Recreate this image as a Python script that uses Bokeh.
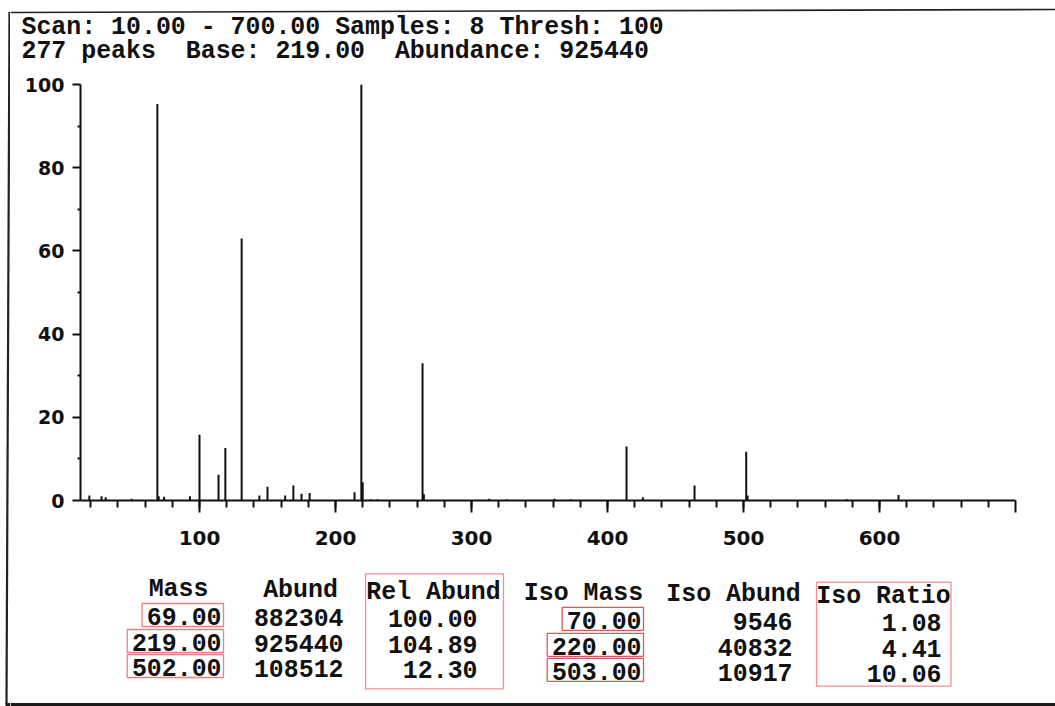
from bokeh.plotting import figure
from bokeh.models import Range1d, FixedTicker, ColumnDataSource
from bokeh.layouts import column, row
from bokeh.core.properties import value
from bokeh.embed import file_html
from bokeh.resources import INLINE

# ---- acquisition summary ----
scan_start = 10.00
scan_end = 700.00
samples = 8
thresh = 100
n_peaks = 277
base_mass = 219.00
base_abund = 925440

# ---- spectrum: peaks not listed in the table (m/z, % of base peak) ----
peak_mz = [19, 28, 31, 50, 74, 93, 100, 114, 119, 131, 144, 150, 163, 169,
           175, 181, 214, 226, 231, 264, 265, 313, 326, 361, 373, 414, 426,
           464, 576, 614]
peak_rel = [1.2, 1.0, 0.8, 0.4, 0.9, 1.0, 15.8, 6.2, 12.6, 63.0, 1.2, 3.3,
            1.2, 3.6, 1.6, 1.8, 2.0, 0.3, 0.3, 33.0, 1.5, 0.4, 0.3, 0.4, 0.3,
            13.0, 0.8, 3.6, 0.3, 1.3]

# ---- isotope table ----
tbl_mass = [69.00, 219.00, 502.00]
tbl_abund = [882304, 925440, 108512]
tbl_rel = [100.00, 104.89, 12.30]
tbl_iso_mass = [70.00, 220.00, 503.00]
tbl_iso_abund = [9546, 40832, 10917]
tbl_iso_ratio = [1.08, 4.41, 10.06]

x_ticks = [100, 200, 300, 400, 500, 600, 700]
x_minor = list(range(20, 700, 20))
y_ticks = [0, 20, 40, 60, 80, 100]
y_minor = [10, 30, 50, 70, 90]

# the tabulated masses and their isotopes are drawn from their abundances
all_mz = peak_mz + tbl_mass + tbl_iso_mass
all_rel = peak_rel + [a / base_abund * 100 for a in tbl_abund] + \
    [a / base_abund * 100 for a in tbl_iso_abund]

# ---- page geometry ----
W = 1055
H = 706
H_HEAD = 70
H_MAIN = 500
H_TAB = H - H_HEAD - H_MAIN
STRIP = 10
INK = "#111111"
EDGE = "#222222"
MONO = "Liberation Mono"
MONO_PX = 24.9
CW = 14.88           # advance of one character
TXT_DY = -7.3        # places the alphabetic baseline of the mono text
NB = "\u00a0"        # keeps runs of spaces in SVG text
TOP_EDGE = 11
BOTTOM_EDGE = 704


def blank(width, height, xr, yr):
    f = figure(width=width, height=height, x_range=Range1d(*xr),
               y_range=Range1d(*yr), output_backend="svg",
               toolbar_location=None, x_axis_location=None,
               y_axis_location=None, min_border=0)
    f.grid.visible = False
    f.outline_line_color = None
    f.background_fill_color = "white"
    f.border_fill_color = "white"
    return f


def spaced(s):
    return s.replace(" ", NB)


mono = dict(text_font=value(MONO), text_font_style="bold",
            text_font_size=f"{MONO_PX}px", text_baseline="alphabetic",
            text_color=INK)

# ---- left page edge (full height) ----
strip = blank(STRIP, H, (0, STRIP), (H, 0))
strip.line(x=[9, 6], y=[TOP_EDGE + 1, BOTTOM_EDGE], line_color=EDGE,
           line_width=2.2)
strip.line(x=[8, STRIP], y=[TOP_EDGE + 1, TOP_EDGE + 1], line_color=EDGE,
           line_width=1.6)
strip.line(x=[5, STRIP], y=[BOTTOM_EDGE, BOTTOM_EDGE], line_color="#1a1a1a",
           line_width=3)

# ---- header ----
head = blank(W - STRIP, H_HEAD, (STRIP, W), (H_HEAD, 0))
line1 = (f"Scan: {scan_start:.2f} - {scan_end:.2f} Samples: {samples} "
         f"Thresh: {thresh}")
line2 = (f"{n_peaks} peaks  Base: {base_mass:.2f}  "
         f"Abundance: {base_abund}")
head.text(x=[21, 21], y=[34 + TXT_DY, 58 + TXT_DY],
          text=[spaced(line1), spaced(line2)], text_align="left", **mono)
head.line(x=[STRIP, W], y=[TOP_EDGE + 1, TOP_EDGE - 2], line_color=EDGE,
          line_width=1.6)

# ---- spectrum ----
p = figure(width=W - STRIP, height=H_MAIN, x_range=Range1d(12.5, scan_end),
           y_range=Range1d(0, 100), output_backend="svg",
           toolbar_location=None, min_border_left=70, min_border_right=40,
           min_border_top=14, min_border_bottom=70)
p.grid.visible = False
p.outline_line_color = None
p.background_fill_color = "white"
p.border_fill_color = "white"

src = ColumnDataSource(dict(mz=all_mz, rel=all_rel, zero=[0] * len(all_mz)))
p.segment(x0="mz", y0="zero", x1="mz", y1="rel", source=src,
          line_color=INK, line_width=2)

xa = p.xaxis[0]
xa.ticker = FixedTicker(ticks=x_ticks, minor_ticks=x_minor)
xa.major_label_overrides = {700: ""}
xa.major_tick_out = 12
xa.major_tick_in = 0
xa.minor_tick_out = 7
xa.minor_tick_in = 0
xa.major_label_standoff = 18

ya = p.yaxis[0]
ya.ticker = FixedTicker(ticks=y_ticks, minor_ticks=y_minor)
ya.major_tick_out = 8
ya.major_tick_in = 0
ya.minor_tick_out = 3
ya.minor_tick_in = 0
ya.major_label_standoff = 8

for ax, size in ((xa, "20px"), (ya, "19px")):
    ax.axis_line_color = INK
    ax.axis_line_width = 2
    ax.major_tick_line_color = INK
    ax.major_tick_line_width = 2
    ax.minor_tick_line_color = INK
    ax.minor_tick_line_width = 2
    ax.major_label_text_font = "DejaVu Sans"
    ax.major_label_text_font_style = "bold"
    ax.major_label_text_font_size = size
    ax.major_label_text_color = INK

# ---- table ----
top = H_HEAD + H_MAIN
tab = blank(W - STRIP, H_TAB, (STRIP, W), (H, top))

headers = ["Mass", "Abund", "Rel Abund", "Iso Mass", "Iso Abund", "Iso Ratio"]
cells = [
    [f"{v:.2f}" for v in tbl_mass],
    [f"{v}" for v in tbl_abund],
    [f"{v:.2f}" for v in tbl_rel],
    [f"{v:.2f}" for v in tbl_iso_mass],
    [f"{v}" for v in tbl_iso_abund],
    [f"{v:.2f}" for v in tbl_iso_ratio],
]
hdr_cx = [178, 300, 433, 583, 733, 883]
val_rx = [221, 343, 477, 641, 792, 941]
row_y = [596, 623, 649, 674]
TILT = 0.0095


def base_y(r, x):
    return row_y[r] + TILT * (x - hdr_cx[0])


tab.text(x=hdr_cx, y=[base_y(0, x) + TXT_DY for x in hdr_cx],
         text=[spaced(h) for h in headers], text_align="center", **mono)

vx, vy, vt = [], [], []
for c, col in enumerate(cells):
    for r, s in enumerate(col):
        vx.append(val_rx[c])
        vy.append(base_y(r + 1, hdr_cx[c]) + TXT_DY)
        vt.append(s)
tab.text(x=vx, y=vy, text=vt, text_align="right", **mono)

# highlighted cells (masses and isotope masses)
box_l, box_r, box_t, box_b, box_c = [], [], [], [], []
for c, color in ((0, "#ef8080"), (3, "#e65555")):
    for r, s in enumerate(cells[c]):
        y = base_y(r + 1, hdr_cx[c])
        box_l.append(val_rx[c] - len(s) * CW - 5)
        box_r.append(val_rx[c] + 2)
        box_t.append(y - 20)
        box_b.append(y + 3)
        box_c.append(color)

# highlighted columns: (column, left pad, right pad, top pad, bottom pad)
for c, lp, rp, tp, bp in ((2, 1, 3, 25, 12), (5, 0, 0.5, 21, 5)):
    half = len(headers[c]) * CW / 2
    box_l.append(hdr_cx[c] - half - lp)
    box_r.append(hdr_cx[c] + half + rp)
    box_t.append(base_y(0, hdr_cx[c]) - tp)
    box_b.append(base_y(3, hdr_cx[c]) + bp)
    box_c.append("#f29090")

tab.quad(left=box_l, right=box_r, top=box_t, bottom=box_b,
         fill_color=None, line_color=box_c, line_width=1.3)

tab.line(x=[STRIP, W], y=[BOTTOM_EDGE, BOTTOM_EDGE], line_color="#1a1a1a",
         line_width=3)

layout = row(strip, column(head, row(p), tab))
open("out.html", "w").write(file_html(layout, INLINE))
